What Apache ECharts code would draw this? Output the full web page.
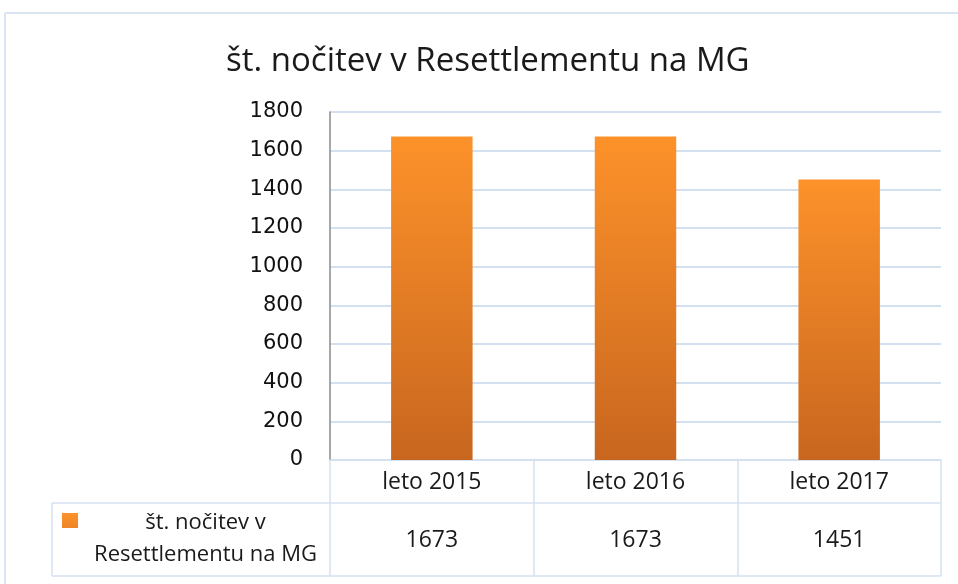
<!DOCTYPE html>
<html>
<head>
<meta charset="utf-8">
<script src="https://cdn.jsdelivr.net/npm/echarts@6/dist/echarts.min.js"></script>
<style>
  html, body { margin: 0; padding: 0; background: #fff; }
  #main { width: 958px; height: 584px; }
</style>
</head>
<body>
<div id="main"></div>
<script>
var titleText = 'št. nočitev v Resettlementu na MG';
var seriesName = 'št. nočitev v Resettlementu na MG';
var categories = ['leto 2015', 'leto 2016', 'leto 2017'];
var values = [1673, 1673, 1451];

var chart = echarts.init(document.getElementById('main'));
var labelFont = '"Open Sans", "Noto Sans", sans-serif';
var tableLine = '#d5e1f0';

chart.setOption({
   animation: false,
   title: {
      text: titleText,
      left: 221,
      top: 40,
      textStyle: { fontFamily: labelFont, fontSize: 33, fontWeight: 'normal', color: '#1a1a1a' }
   },
   legend: {
      left: 62,
      top: 512,
      padding: 0,
      // square sits on the first text line, like in the spreadsheet table
      icon: 'path://M0,0h16v15h-16z M0,52L0.01,52',
      itemWidth: 16,
      itemHeight: 52,
      itemGap: 0,
      data: [seriesName],
      formatter: function () {
         return '{a|št. nočitev v}\n{a|Resettlementu na MG}';
      },
      textStyle: {
         rich: {
            a: { width: 245, align: 'center', fontFamily: labelFont, fontSize: 22, lineHeight: 32, color: '#1a1a1a' }
         }
      }
   },
   grid: { left: 330, right: 17, top: 112, bottom: 124 },
   xAxis: [
      {
         type: 'category',
         data: categories,
         axisLine: { lineStyle: { color: tableLine, width: 1.5 } },
         axisTick: { show: true, length: 116, lineStyle: { color: tableLine, width: 1.5 } },
         axisLabel: { margin: 11, fontFamily: labelFont, fontSize: 23, color: '#1a1a1a' }
      },
      {
         type: 'category',
         position: 'bottom',
         data: categories,
         axisLine: { show: false },
         axisTick: { show: false },
         axisLabel: {
            margin: 69,
            fontFamily: labelFont,
            fontSize: 23,
            color: '#1a1a1a',
            formatter: function (v, i) { return String(values[i]); }
         }
      }
   ],
   yAxis: {
      type: 'value',
      min: 0,
      max: 1800,
      interval: 200,
      axisLine: { show: true, lineStyle: { color: '#8a8a8a', width: 1.5 } },
      axisTick: { show: false },
      axisLabel: {
         margin: 27,
         fontFamily: '"DejaVu Sans", Verdana, sans-serif',
         fontSize: 21,
         color: '#111',
         formatter: function (v) { return String(v); }
      },
      splitLine: { lineStyle: { color: '#d3e0f0', width: 2 } }
   },
   series: [{
      name: seriesName,
      type: 'bar',
      data: values,
      barWidth: '40%',
      itemStyle: {
         color: new echarts.graphic.LinearGradient(0, 0, 0, 1, [
            { offset: 0, color: '#fd922a' },
            { offset: 1, color: '#c8661f' }
         ]),
         shadowColor: 'rgba(0,0,0,0.25)',
         shadowBlur: 4,
         shadowOffsetX: 1,
         shadowOffsetY: 1
      }
   }]
});

// table frame and outer chart border
var gridRight = 958 - 17;
var axisY = 584 - 124;
chart.setOption({
   graphic: [
      { type: 'line', shape: { x1: 5, y1: 13, x2: 958, y2: 13 }, style: { stroke: '#dbe5f1', lineWidth: 2 } },
      { type: 'line', shape: { x1: 5, y1: 13, x2: 5, y2: 584 }, style: { stroke: '#dbe5f1', lineWidth: 2 } },
      { type: 'line', shape: { x1: 52, y1: axisY + 43, x2: gridRight, y2: axisY + 43 }, style: { stroke: tableLine, lineWidth: 1.5 } },
      { type: 'line', shape: { x1: 52, y1: axisY + 116, x2: gridRight, y2: axisY + 116 }, style: { stroke: tableLine, lineWidth: 1.5 } },
      { type: 'line', shape: { x1: 52, y1: axisY + 43, x2: 52, y2: axisY + 116 }, style: { stroke: tableLine, lineWidth: 1.5 } }
   ]
});
</script>
</body>
</html>
